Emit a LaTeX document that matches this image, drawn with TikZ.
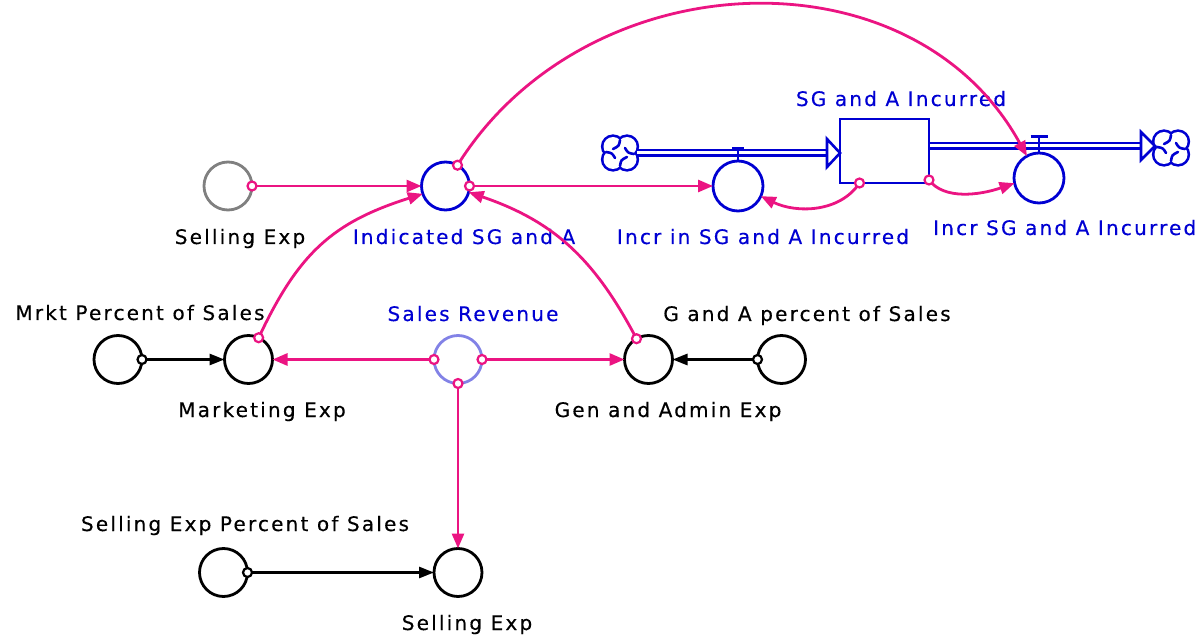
\documentclass[tikz,border=0pt]{standalone}
\usepackage{fontspec}
\newfontfamily\labfont{DejaVu Sans}[LetterSpace=11,FakeBold=0.4]
\usetikzlibrary{arrows.meta}
\definecolor{mag}{RGB}{235,20,130}
\definecolor{vblue}{RGB}{0,0,210}
\definecolor{lpur}{RGB}{130,130,230}
\begin{document}
\begin{tikzpicture}[x=1pt,y=-1pt,
  aux/.style={circle, draw, line width=2.8pt, minimum size=48pt, inner sep=0pt, outer sep=0pt},
  lab/.style={font=\labfont\fontsize{20}{23}\selectfont, inner sep=0pt, anchor=base},
  conn/.style={draw=mag, line width=2.8pt, -{Triangle[length=15pt,width=12pt]}},
  bconn/.style={draw=black, line width=2.8pt, -{Triangle[length=15pt,width=11pt]}},
  dot/.style={draw=mag, fill=white, line width=2.2pt},
  bdot/.style={draw=black, fill=white, line width=2.2pt},
  pipe/.style={draw=vblue, double=white, double distance=3pt, line width=2.4pt},
  pipetip/.style={draw=vblue, fill=white, line width=2.6pt, line join=miter},
  cloudsym/.pic={
    \draw[vblue, line width=5.2pt] (-7,-6.5) circle (9.5) (7,-6.5) circle (9.5) (-7,6.5) circle (9.5) (7,6.5) circle (9.5);
    \fill[white] (-7,-6.5) circle (9.5) (7,-6.5) circle (9.5) (-7,6.5) circle (9.5) (7,6.5) circle (9.5);
    \draw[vblue, line width=2.6pt, line cap=round] (0,-13) .. controls (-1,-7) .. (-7,-4);
    \draw[vblue, line width=2.6pt, line cap=round] (14,1) .. controls (8,0) .. (5,-5);
    \draw[vblue, line width=2.6pt, line cap=round] (0,13) .. controls (1,7) .. (7,4);
    \draw[vblue, line width=2.6pt, line cap=round] (-14,-1) .. controls (-8,0) .. (-5,5);
  }]
\useasboundingbox (0,0) rectangle (1197,636);

% ---- nodes ----
\node[aux, draw=gray] (sel) at (228,186) {};
\node[aux, draw=vblue] (ind) at (445.5,186) {};
\node[aux, draw=vblue, minimum size=50pt] (incrin) at (738,186) {};
\node[aux, draw=vblue, minimum size=50pt] (incrsg) at (1039,178) {};
\node[aux] (mp) at (118,359.5) {};
\node[aux] (mk) at (248.5,359.5) {};
\node[aux, draw=lpur] (sr) at (458,359.5) {};
\node[aux] (ga) at (648.5,359.5) {};
\node[aux] (gp) at (781.5,359.5) {};
\node[aux] (sp) at (223.5,572.5) {};
\node[aux] (se2) at (458,572.5) {};

% ---- clouds and pipes ----
\coordinate (c1) at (620,153);
\coordinate (c2) at (1171,148);
\pic at (c1) {cloudsym};
\pic at (c2) {cloudsym};
\node[draw=vblue, line width=2.8pt, minimum width=89pt, minimum height=64pt, inner sep=0pt, outer sep=0pt] (stock) at (884.5,151) {};
\draw[pipe] ([xshift=17pt]c1) -- ([xshift=-13pt]stock.west |- c1);
\draw[pipetip] ([xshift=-13pt]stock.west |- c1) ++(0,-14) -- ++(13,14) -- ++(-13,14) -- cycle;
\coordinate (outy) at (1000,146);
\draw[pipe] (stock.east |- outy) -- ([xshift=-30pt]c2 |- outy);
\draw[pipetip] ([xshift=-30pt]c2 |- outy) ++(0,-14) -- ++(14,14) -- ++(-14,14) -- cycle;
\draw[draw=vblue, line width=2.8pt] (stock.north west) rectangle (stock.south east);

% valves
\draw[vblue, line width=2.6pt] (incrin.north) -- ++(0,-10);
\fill[vblue] (incrin.north) ++(-6,-14) rectangle ++(12,4.5);
\draw[vblue, line width=2.6pt] (incrsg.north) -- ++(0,-16);
\draw[vblue, line width=3pt] (incrsg.north) ++(-8.5,-16) -- ++(17,0);

% ---- labels ----
\node[lab] (selL) at (240,244) {Selling Exp};
\node[lab, text=vblue] (indL) at (464,244) {Indicated SG and A};
\node[lab, text=vblue] (incrinL) at (763,244) {Incr in SG and A Incurred};
\node[lab, text=vblue] (stockL) at (901,106) {SG and A Incurred};
\node[lab, text=vblue, anchor=base west] (incrsgL) at (933,235) {Incr SG and A Incurred};
\node[lab] (mpL) at (140,320) {Mrkt Percent of Sales};
\node[lab, text=vblue] (srL) at (473,321) {Sales Revenue};
\node[lab] (gpL) at (807,321) {G and A percent of Sales};
\node[lab] (mkL) at (262,417) {Marketing Exp};
\node[lab] (gaL) at (668,417) {Gen and Admin Exp};
\node[lab] (spL) at (245,531) {Selling Exp Percent of Sales};
\node[lab] (se2L) at (467,630) {Selling Exp};

% ---- connectors ----
\draw[conn] (sel.east) -- (ind.west);
\draw[dot] (sel.east) circle (4.5);
\draw[conn] (ind.east) -- (incrin.west);
\draw[dot] (ind.east) circle (4.5);
\draw[conn] (ind.60) .. controls +(128,-205) and +(-115,-210) .. (incrsg.119);
\draw[dot] (ind.60) circle (4.5);
\draw[conn] ([xshift=-25pt]stock.south) .. controls +(-20,30) and +(35,17) .. (incrin.-24);
\draw[dot] ([xshift=-25pt]stock.south) circle (4.5);
\draw[conn] ([yshift=3pt]stock.south east) .. controls +(15,20) and +(-35,12) .. (incrsg.192);
\draw[dot] ([yshift=3pt]stock.south east) circle (4.5);
\draw[conn] (mk.65) .. controls +(40,-85) and +(-90,28.5) .. (ind.199);
\draw[dot] (mk.65) circle (4.5);
\draw[conn] (ga.120) .. controls +(-42,-80) and +(85,29) .. (ind.-15);
\draw[dot] (ga.120) circle (4.5);
\draw[conn] (sr.west) -- (mk.east);
\draw[dot] (sr.west) circle (4.5);
\draw[conn] (sr.east) -- (ga.west);
\draw[dot] (sr.east) circle (4.5);
\draw[conn] (sr.south) -- (se2.north);
\draw[dot] (sr.south) circle (4.5);
\draw[bconn] (mp.east) -- (mk.west);
\draw[bdot] (mp.east) circle (4.5);
\draw[bconn] (gp.west) -- (ga.east);
\draw[bdot] (gp.west) circle (4.5);
\draw[bconn] (sp.east) -- (se2.west);
\draw[bdot] (sp.east) circle (4.5);
\end{tikzpicture}
\end{document}
